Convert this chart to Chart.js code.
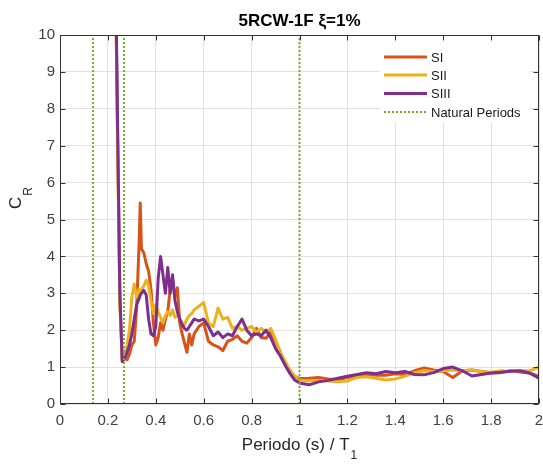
<!DOCTYPE html>
<html>
<head>
<meta charset="utf-8">
<script src="https://cdn.jsdelivr.net/npm/chart.js@4.4.0/dist/chart.umd.min.js"></script>
<style>
    html, body { margin: 0; padding: 0; background: #fff; }
    canvas { display: block; }
</style>
</head>
<body>
<canvas id="cr-chart" width="543" height="464"></canvas>
<script>
// Data
const periods = [
    0.23, 0.24, 0.25, 0.26, 0.27, 0.28, 0.29, 0.30, 0.31, 0.32,
    0.33, 0.335, 0.34, 0.35, 0.36, 0.37, 0.38, 0.39, 0.40, 0.41,
    0.42, 0.43, 0.44, 0.45, 0.46, 0.47, 0.48, 0.49, 0.50, 0.51,
    0.52, 0.53, 0.54, 0.55, 0.56, 0.58, 0.60, 0.62, 0.64, 0.66,
    0.68, 0.70, 0.72, 0.74, 0.76, 0.78, 0.80, 0.82, 0.84, 0.86,
    0.88, 0.90, 0.92, 0.94, 0.96, 0.98, 1.00, 1.04, 1.08, 1.12,
    1.16, 1.20, 1.24, 1.28, 1.32, 1.36, 1.40, 1.44, 1.48, 1.52,
    1.56, 1.60, 1.64, 1.68, 1.72, 1.76, 1.80, 1.84, 1.88, 1.92,
    1.96, 2.00
];

const siValues = [
    12.5, 7.5, 2.8, 1.15, 1.25, 1.2, 1.35, 1.6, 1.7, 2.6,
    4.3, 5.45, 4.2, 4.1, 3.8, 3.6, 3.1, 2.2, 1.6, 1.8,
    2.2, 2.0, 2.3, 2.5, 3.1, 3.35, 2.9, 3.15, 2.2, 1.9,
    1.65, 1.4, 1.9, 1.6, 1.9, 2.1, 2.2, 1.7, 1.6, 1.55,
    1.45, 1.7, 1.75, 1.85, 1.7, 1.65, 1.8, 2.05, 1.8, 1.78,
    1.95, 1.7, 1.4, 1.1, 0.85, 0.75, 0.69, 0.7, 0.72, 0.68,
    0.66, 0.72, 0.76, 0.8, 0.78, 0.78, 0.82, 0.8, 0.9, 0.98,
    0.92, 0.88, 0.72, 0.9, 0.92, 0.88, 0.84, 0.85, 0.9, 0.87,
    0.84, 0.75
];

const siiValues = [
    12.5, 7.3, 2.7, 1.2, 1.3, 1.6, 2.0, 2.9, 3.25, 2.9,
    3.1, 3.0, 3.1, 3.2, 3.35, 3.2, 2.8, 2.45, 2.7, 2.5,
    2.35, 2.2, 2.4, 2.5, 2.4, 2.55, 2.35, 2.4, 2.3, 2.2,
    2.15, 2.3, 2.4, 2.45, 2.55, 2.65, 2.75, 2.2, 2.1, 2.6,
    2.3, 2.35, 2.05, 2.1, 2.0, 2.05, 2.1, 1.95, 2.05, 1.95,
    2.05, 1.75, 1.4, 1.15, 0.92, 0.76, 0.65, 0.62, 0.64, 0.62,
    0.6, 0.62, 0.72, 0.74, 0.7, 0.65, 0.68, 0.75, 0.85, 0.9,
    0.88, 0.9, 0.92, 0.9, 0.92, 0.88, 0.86, 0.9, 0.88, 0.9,
    0.9, 1.0
];

const siiiValues = [
    12.8, 7.8, 3.0, 1.15, 1.25, 1.4, 1.6, 1.9, 2.3, 2.7,
    2.85, 2.95, 3.0, 3.08, 2.95, 2.3, 1.9, 1.85, 2.1, 3.4,
    4.0, 3.5, 3.0, 3.7, 3.0, 3.5, 2.8, 2.5, 2.3, 2.15,
    2.05, 2.0, 2.1, 2.2, 2.3, 2.25, 2.3, 2.1, 1.85, 1.95,
    1.8, 1.9, 1.85, 2.1, 2.3, 2.0, 1.85, 1.9, 1.85, 2.0,
    1.8, 1.5, 1.3, 1.05, 0.83, 0.65, 0.57, 0.52, 0.6, 0.64,
    0.7, 0.75, 0.8, 0.85, 0.82, 0.88, 0.85, 0.88, 0.8, 0.79,
    0.85, 0.96, 1.0, 0.9, 0.76, 0.8, 0.84, 0.86, 0.89, 0.9,
    0.84, 0.7
];

const naturalPeriods = [0.138, 0.267, 1.0];

const xTicks = [0, 0.2, 0.4, 0.6, 0.8, 1, 1.2, 1.4, 1.6, 1.8, 2];
const yTicks = [0, 1, 2, 3, 4, 5, 6, 7, 8, 9, 10];

const seriesNames = ["SI", "SII", "SIII", "Natural Periods"];
const seriesColors = ["#D95319", "#EDB120", "#7E2F8E", "#77AC30"];

const FONT = '"Liberation Sans", Arial, Helvetica, sans-serif';
const axisColor = "#333333";
const gridColor = "#e2e2e2";

function toPoints(values) {
    return periods.map((p, i) => ({ x: p, y: values[i] }));
}

// Box, inward ticks, title, axis labels with subscripts and the legend
const framePlugin = {
    id: "frame",
    afterDatasetsDraw(chart) {
        const { ctx, chartArea: a, scales } = chart;
        const L = Math.round(a.left) + 0.5, R = Math.round(a.right) - 0.5;
        const T = Math.round(a.top) + 0.5, B = Math.round(a.bottom) - 0.5;
        ctx.save();
        ctx.strokeStyle = axisColor;
        ctx.lineWidth = 1;
        ctx.strokeRect(L, T, R - L, B - T);
        ctx.beginPath();
        xTicks.forEach(v => {
            const px = Math.round(scales.x.getPixelForValue(v)) + 0.5;
            ctx.moveTo(px, B); ctx.lineTo(px, B - 5);
            ctx.moveTo(px, T); ctx.lineTo(px, T + 5);
        });
        yTicks.forEach(v => {
            const py = Math.round(scales.y.getPixelForValue(v)) + 0.5;
            ctx.moveTo(L, py); ctx.lineTo(L + 5, py);
            ctx.moveTo(R, py); ctx.lineTo(R - 5, py);
        });
        ctx.stroke();
        ctx.restore();
    },
    afterDraw(chart) {
        const { ctx, chartArea: a } = chart;
        const cx = (a.left + a.right) / 2;
        ctx.save();
        ctx.fillStyle = "#000";

        // Title
        ctx.font = "bold 17px " + FONT;
        ctx.textAlign = "center";
        ctx.textBaseline = "alphabetic";
        ctx.fillText("5RCW-1F \u03BE=1%", cx, 26);

        // X axis label: Periodo (s) / T1
        ctx.fillStyle = "#262626";
        ctx.textAlign = "left";
        ctx.font = "17px " + FONT;
        const mainX = "Periodo (s) / T";
        const wMain = ctx.measureText(mainX).width;
        ctx.font = "12px " + FONT;
        const wSub = ctx.measureText("1").width;
        const startX = cx - (wMain + wSub + 1) / 2;
        ctx.font = "17px " + FONT;
        ctx.fillText(mainX, startX, 450);
        ctx.font = "12px " + FONT;
        ctx.fillText("1", startX + wMain + 1, 459);

        // Y axis label: C_R
        ctx.save();
        ctx.translate(21, 209);
        ctx.rotate(-Math.PI / 2);
        ctx.font = "17px " + FONT;
        ctx.fillText("C", 0, 0);
        const wC = ctx.measureText("C").width;
        ctx.font = "12px " + FONT;
        ctx.fillText("R", wC + 1, 11);
        ctx.restore();

        // Legend inside the axes, top right
        ctx.fillStyle = "#fff";
        ctx.fillRect(380, 41, 150, 81);
        const rows = [57, 75, 93.5, 112];
        ctx.font = "13px " + FONT;
        ctx.textBaseline = "middle";
        seriesNames.forEach((name, i) => {
            ctx.beginPath();
            ctx.strokeStyle = seriesColors[i];
            if (i === 3) {
                ctx.lineWidth = 2;
                ctx.setLineDash([2, 2]);
            } else {
                ctx.lineWidth = 3;
                ctx.setLineDash([]);
            }
            ctx.moveTo(384, rows[i]);
            ctx.lineTo(427, rows[i]);
            ctx.stroke();
            ctx.fillStyle = "#1a1a1a";
            ctx.fillText(name, 431, rows[i] + 1);
        });
        ctx.restore();
    }
};

const seriesData = [siValues, siiValues, siiiValues];
const datasets = seriesData.map((vals, i) => ({
    label: seriesNames[i],
    data: toPoints(vals),
    borderColor: seriesColors[i],
    borderWidth: 3,
    order: 3 - i
}));
naturalPeriods.forEach(p => {
    datasets.push({
        label: seriesNames[3],
        data: [{ x: p, y: yTicks[0] }, { x: p, y: yTicks[yTicks.length - 1] }],
        borderColor: seriesColors[3],
        borderWidth: 2,
        borderDash: [2, 2],
        order: 0
    });
});

const crChart = new Chart(document.getElementById("cr-chart").getContext("2d"), {
    type: "line",
    data: { datasets },
    plugins: [framePlugin],
    options: {
        responsive: false,
        animation: false,
        layout: { padding: { top: 35, right: 4, left: 0, bottom: 0 } },
        elements: {
            point: { radius: 0 },
            line: { tension: 0, borderJoinStyle: "round" }
        },
        plugins: {
            legend: { display: false },
            title: { display: false },
            tooltip: { enabled: false }
        },
        scales: {
            x: {
                type: "linear",
                min: 0,
                max: 2,
                afterBuildTicks: s => { s.ticks = xTicks.map(v => ({ value: v })); },
                afterFit: s => {
                    s.height = 60;
                    s.paddingLeft = 0;
                    s.paddingRight = 0;
                },
                ticks: {
                    callback: v => String(v),
                    font: { size: 15, family: FONT },
                    color: "#404040",
                    padding: 8,
                    maxRotation: 0,
                    autoSkip: false
                },
                grid: { color: gridColor, drawTicks: false },
                border: { display: false }
            },
            y: {
                min: 0,
                max: 10,
                afterBuildTicks: s => { s.ticks = yTicks.map(v => ({ value: v })); },
                afterFit: s => {
                    s.width = 60;
                    s.paddingTop = 0;
                    s.paddingBottom = 0;
                },
                ticks: {
                    callback: v => String(v),
                    font: { size: 15, family: FONT },
                    color: "#404040",
                    padding: 5,
                    autoSkip: false
                },
                grid: { color: gridColor, drawTicks: false },
                border: { display: false }
            }
        }
    }
});
</script>
</body>
</html>
